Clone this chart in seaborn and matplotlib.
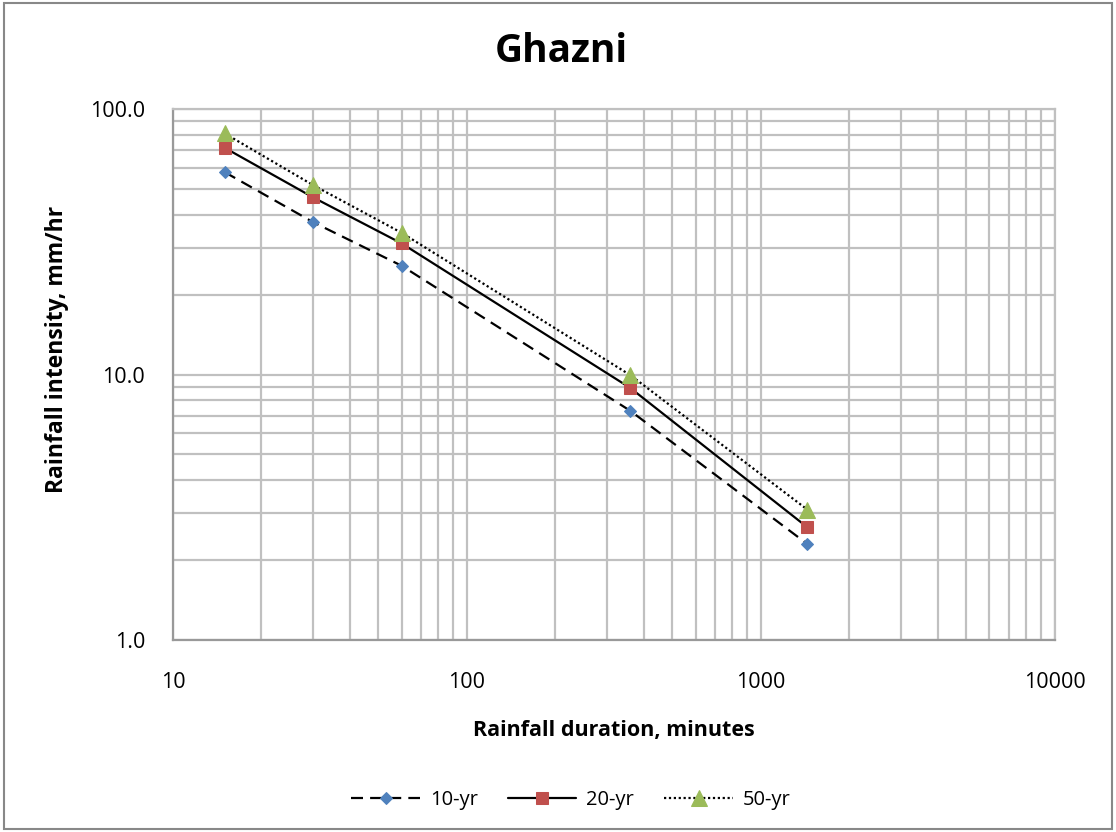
import matplotlib
matplotlib.use('Agg')
import matplotlib.pyplot as plt
import matplotlib.ticker as mticker
from matplotlib.patches import Rectangle
import pandas as pd
import seaborn as sns

durations = [15, 30, 60, 360, 1440]
yr10 = [57.9, 37.5, 25.7, 7.3, 2.3]
yr20 = [71.5, 46.5, 31.2, 8.9, 2.66]
yr50 = [81.0, 51.7, 34.2, 9.95, 3.1]
series_names = ['10-yr', '20-yr', '50-yr']

sns.set_style('white')
plt.rcParams['font.family'] = ['Open Sans', 'DejaVu Sans']
plt.rcParams['text.color'] = 'black'
plt.rcParams['xtick.labelcolor'] = 'black'
plt.rcParams['ytick.labelcolor'] = 'black'
plt.rcParams['axes.labelcolor'] = 'black'

df = pd.DataFrame({
    'duration': durations * 3,
    'intensity': yr10 + yr20 + yr50,
    'period': [n for n in series_names for _ in durations],
})

styles = {
    '10-yr': dict(ls=(0, (5.4, 3.2)), marker='D', mfc='#4F81BD', ms=6),
    '20-yr': dict(ls='-', marker='s', mfc='#C0504D', ms=9),
    '50-yr': dict(ls=(0, (1, 1.2)), marker='^', mfc='#9BBB59', ms=11),
}

fig = plt.figure(figsize=(11.16, 8.32), dpi=100)
ax = fig.add_axes([0.155, 0.2308, 0.79, 0.638])

for name in series_names:
    st = styles[name]
    sub = df[df['period'] == name]
    sns.lineplot(data=sub, x='duration', y='intensity', ax=ax, color='black',
                 lw=1.6, linestyle=st['ls'], marker=st['marker'],
                 markerfacecolor=st['mfc'], markeredgecolor=st['mfc'],
                 markersize=st['ms'], label=name, legend=False)

ax.set_xscale('log')
ax.set_yscale('log')
ax.set_xlim(10, 10000)
ax.set_ylim(1, 100)

ax.xaxis.set_major_locator(mticker.LogLocator(base=10))
ax.xaxis.set_minor_locator(mticker.LogLocator(base=10, subs=range(2, 10)))
ax.yaxis.set_major_locator(mticker.LogLocator(base=10))
ax.yaxis.set_minor_locator(mticker.LogLocator(base=10, subs=range(2, 10)))
ax.xaxis.set_major_formatter(mticker.FuncFormatter(lambda v, p: f'{v:.0f}'))
ax.yaxis.set_major_formatter(mticker.FuncFormatter(lambda v, p: f'{v:.1f}'))
ax.xaxis.set_minor_formatter(mticker.NullFormatter())
ax.yaxis.set_minor_formatter(mticker.NullFormatter())

ax.grid(True, which='both', color='#C0C0C0', lw=1.6)
ax.set_axisbelow(True)
for side, s in ax.spines.items():
    s.set_color('#C0C0C0' if side in ('top', 'right') else '#999999')
    s.set_linewidth(1.6)
ax.tick_params(which='major', length=6, color='#999999', width=1.6, labelsize=15.5)
ax.tick_params(axis='x', which='major', pad=17)
ax.tick_params(axis='y', which='major', pad=14)
ax.tick_params(which='minor', length=0)

ax.set_xlabel('Rainfall duration, minutes', fontsize=15.5, fontweight='bold')
ax.set_ylabel('Rainfall intensity, mm/hr', fontsize=16.5, fontweight='bold')
ax.xaxis.label.set_va('center')
ax.yaxis.label.set_va('center')
ax.xaxis.set_label_coords(0.5, -0.171)
ax.yaxis.set_label_coords(-0.1315, 0.548)

fig.text(561 / 1116, 1 - 52 / 832, 'Ghazni', fontsize=28, fontweight='bold',
         ha='center', va='center')

handles, labels = ax.get_legend_handles_labels()
fig.legend(handles, labels, loc='center', bbox_to_anchor=(571 / 1116, 32 / 832),
           ncol=3, frameon=False, fontsize=14.5, handlelength=3.4,
           handletextpad=0.5, columnspacing=1.5)

fig.patches.append(Rectangle((0.004, 0.004), 0.992, 0.992, transform=fig.transFigure,
                             fill=False, edgecolor='#888888', lw=1.5))

fig.savefig('out.png', dpi=100)
